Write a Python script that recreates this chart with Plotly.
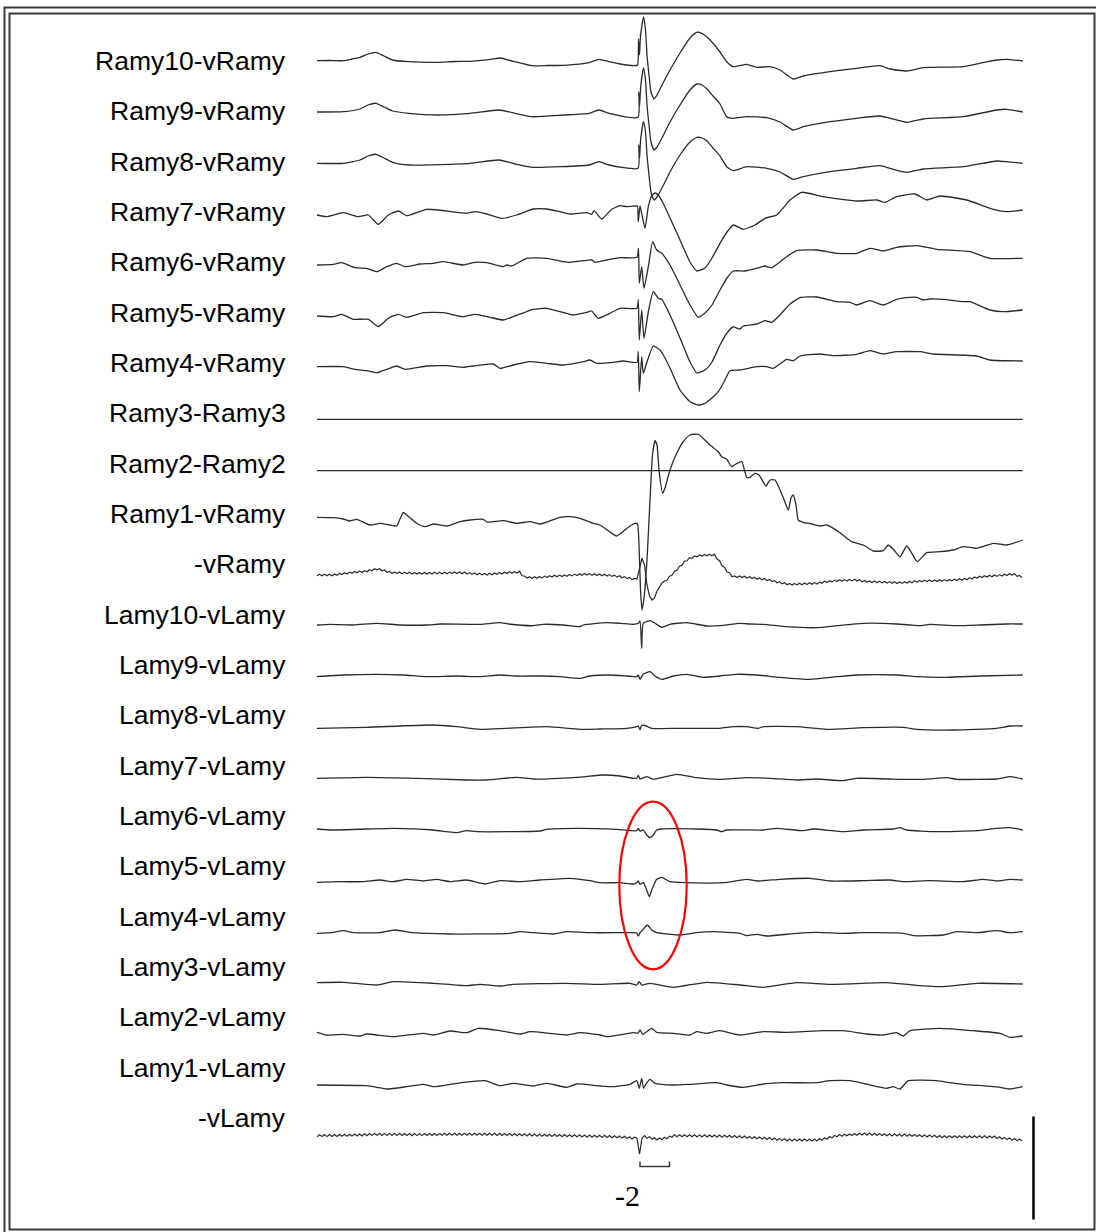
import plotly.graph_objects as go

# ---------------- data ----------------
LABELS = ["Ramy10-vRamy", "Ramy9-vRamy", "Ramy8-vRamy", "Ramy7-vRamy", "Ramy6-vRamy",
          "Ramy5-vRamy", "Ramy4-vRamy", "Ramy3-Ramy3", "Ramy2-Ramy2", "Ramy1-vRamy",
          "-vRamy", "Lamy10-vLamy", "Lamy9-vLamy", "Lamy8-vLamy", "Lamy7-vLamy",
          "Lamy6-vLamy", "Lamy5-vLamy", "Lamy4-vLamy", "Lamy3-vLamy", "Lamy2-vLamy",
          "Lamy1-vLamy", "-vLamy"]

# time (ms from start of epoch) and amplitude (uV, negative up convention)
T_RAMY10 = [0,13,26.6,35,43,51,59,67,75.6,92,120.6,138,153,173.8,184,191,198,215,231,247,
            272,282,292,303,317,320.5,321.5,322.5,323.5,326.5,328.5,330,332,334,337,340,346,353,363,373,
            379.7,384.7,390,396,403,409.7,416.3,429.7,439.7,453,463,476.3,486.3,513,539.7,563,573,589.7,606.3,646.3,
            663,679.7,689.7,705.7]
V_RAMY10 = [-0.3,-0.5,-0.3,-2,-3.7,-7,-8.7,-5,-1,0.7,1.3,0.5,0.3,-1.7,-3,-1,0.7,4.7,4.5,4.3,
            1.7,-1.7,0.7,3,4.7,4,-22,-6,-25,-44,-31,-6,14,31,38,34,22,9,-8,-23,
            -28.7,-27.7,-24,-17.7,-9,0.7,5.7,3.3,6.3,5.7,9,18,15,10.7,7.3,4.7,8,10,6.7,5.7,
            2.3,-1,-1.7,0]

T_RAMY9 = [0,26.6,43,51,59,67,75.6,92,120.6,153,182,198,215,247,272,282,292,321,321.8,322.6,
           323.6,326.5,328.5,330,332,334,337,340,346,353,363,373,380,385,390,396,403,409.7,416.3,429.7,
           449.7,463,476.3,486.3,513,539.7,563,573,589.7,606.3,646.3,679.7,689.7,705.7]
V_RAMY9 = [-0.2,-0.5,-3.2,-7.2,-8.9,-5.2,-1.2,1.1,2.8,1.1,-2.2,1.1,4.5,2.8,1.1,-2.2,1.1,5.1,-20.2,-6.2,
           -24.2,-44.2,-32.2,-7.2,12.8,29.8,37.8,34.8,23.8,9.8,-7.2,-22.2,-28.2,-27.2,-23.2,-16.2,-8.2,4.5,6.1,4.5,
           5.5,9.8,17.8,14.5,9.5,6.1,3.8,6.1,10.1,6.8,4.5,-2.2,-2.9,-0.2]

T_RAMY8 = [0,26.6,43,51,59,67,75.6,92,153,182,198,215,272,282,292,321,321.8,322.6,323.6,326.5,
           328.5,330,332,334,337,340,346,353,363,373,380,385,390,396,403,409.7,416.3,429.7,449.7,463,
           476.3,486.3,513,539.7,563,573,589.7,606.3,646.3,679.7,689.7,705.7]
V_RAMY8 = [-0.1,-0.1,-3.4,-7.4,-9.1,-5.4,-1.1,1.6,-0.1,-3.4,0.6,3.9,1.6,-1.7,1.6,4.9,-18.4,-5.4,-23.4,-41.7,
           -31.4,-8.4,11.6,28.6,36.6,33.6,22.6,8.6,-8.4,-21.4,-26.1,-25.4,-22.4,-15.4,-7.4,3.3,7.3,3.3,4.9,8.6,
           15.9,13.3,8.3,4.9,2.3,4.9,8.9,5.6,3.3,-2.4,-1.7,-0.1]

T_RAMY7 = [0,9.7,26.3,41.3,51.3,61.3,71.3,81.3,89.7,109.7,149.7,158,169.7,184.7,199.7,216.3,229.7,243,253,269.7,
           274.7,277,284.7,294.7,303,309.7,319,320.5,321.3,323,325,328,331.3,334.7,338,342,346,353,363,373,
           380,388,395,403,410,416.3,426.3,438,448,459.7,473,484.7,506,539.7,559.7,568,579.7,598,609.7,623,
           649.7,673,689.7,705.7]
V_RAMY7 = [0.4,2.1,-1.9,2.1,0.4,9.7,0.4,-3.6,1.1,-5.3,-1.3,-2.9,-0.6,3.7,0.4,-5.6,-5.6,-2.9,-0.6,-1.9,
           -0.3,-3.9,4.4,-5.3,-8.9,-7.9,-8.6,-8.6,7.1,-8.6,0.4,13.7,-7.9,-18.6,-21.6,-18.6,-11.6,3.4,25.4,47.4,
           56.4,53.4,43.4,28.7,17.4,10.4,14.7,10.4,3.7,0.4,-14.6,-22.3,-17.9,-13.6,-14.6,-12.3,-17.9,-20.6,-14.6,-18.6,
           -14.6,-6.3,-2.9,-4.6]

T_RAMY6 = [0,16.3,24.7,38,49.7,59.7,69.7,79.7,88,103,116.3,126.3,146.3,158,169.7,186.3,189.7,194.7,209.7,229.7,
           246.3,253,266.3,274.7,278,289.7,303,320,321.5,322.3,324.7,327,331.3,335.7,339.7,344.7,353,363,373,381,
           388,395,403,410,416.3,428,439.7,448,454.7,469.7,479.7,499.7,519.7,539.7,553,566.3,579.7,599.7,619.7,653,
           673,705.7]
V_RAMY6 = [-0.8,-1.5,-3.1,1.9,2.5,5.9,0.9,-2.5,0.9,-1.8,-2.5,-4.1,-0.8,-3.5,-3.1,0.9,-0.8,0.2,-7.5,-7.5,
           -4.1,-3.5,-5.1,-5.8,-3.5,-5.8,-8.1,-8.5,-17.5,17.5,0.9,22.5,0.9,-24.1,-15.8,-12.5,-0.8,19.2,39.2,51.2,
           47.2,39.2,24.2,12.2,5.2,5.2,2.5,0.2,1.9,-9.1,-15.1,-15.8,-12.5,-12.5,-17.5,-14.8,-18.5,-20.1,-16.5,-14.1,
           -7.5,-7.5]

T_RAMY5 = [0,16.3,24.7,36.3,51.3,61.3,71.3,81.3,89.7,106.3,126.3,146.3,158,173,186.3,196.3,216.3,229.7,243,256.3,
           269.7,274.7,278,281.3,293,303,320,321.3,322.3,324.7,327,331.3,336.3,341.3,344.7,353,363,373,380,388,
           395,403,410,416,423,426.3,439.7,448,454.7,463,473,483,499.7,519.7,533,539.7,553,566.3,579.7,593,
           599.7,606.3,613,626.3,646.3,653,673,686.3,705.7]
V_RAMY5 = [-1,-0.3,-2.7,2.3,2.3,9.7,1.3,-2.7,0.3,-4.3,-4.3,-0.3,-2.7,0.3,3,-0.3,-7.7,-8.7,-5.3,-2,
           -4.7,-6,-2,1.3,-3.7,-8.7,-8.7,-17,23,-7,21.3,-5,-25.3,-18.7,-17.7,-2,21,45,56,53,
           45,28,16,10,12,9,7,3.7,5.3,-2,-13,-19.3,-20,-15.3,-14.7,-12,-16.3,-12,-17.7,-19.7,
           -19.7,-17,-18,-17.7,-15.3,-15.3,-7,-5.3,-7]

T_RAMY4 = [0,26.3,38,49.7,59.7,69.7,79.7,88,109.7,129.7,146.3,156.3,176.3,183,186.3,196.3,213,229.7,246.3,266.3,
           273,279.7,296.3,306.3,320,321.3,322.3,324.7,326.3,330,336.3,343,346.3,353,363,373,381.3,388,396.3,401.3,
           407,413,423,439.7,449.7,456.3,469.7,476.3,483,503,516.3,539.7,553,566.3,579.7,603,616.3,659.7,673,705.7]
V_RAMY4 = [-1.5,-1.5,1.1,2.5,4.5,1.1,-2.2,1.1,-2.2,-2.5,-0.9,-2.2,-4.2,0.1,-0.5,-3.2,-6.5,-4.9,-3.2,-6.5,
           -8.2,-4.9,-5.9,-7.2,-5.9,-16.5,23.5,-11.5,5.1,-6.2,-22.2,-18.2,-13.2,-0.2,21.8,33.5,36.8,35.1,28.5,23.5,
           13.8,2.5,1.8,-1.5,-1.5,0.1,-8.9,-7.5,-12.2,-14.2,-12.5,-13.9,-17.5,-14.2,-16.5,-16.5,-14.2,-12.2,-8.2,-7.2]

T_RAMY3 = [0, 705.7]
V_RAMY3 = [0, 0]
T_RAMY2 = [0, 705.7]
V_RAMY2 = [0, 0]

T_RAMY1 = [0,16.3,26.3,33,39.7,53,63,73,79.7,83,86.3,89.7,99.7,108,116.3,129.7,143,153,166.3,169.7,
           186.3,199.7,213,223,243,253,263,276.3,283,294.7,299.7,303,313,318,320.5,322,323.5,325,327,330,
           333,335.5,338,340,342,345.7,348,353,359.7,366,373,381.3,393,401.3,404.7,409.7,414.7,419,424.7,429.7,
           433,438,442,449,453,458,466,471.3,474,476.3,479,481.3,486.3,494.7,503,510,523,534.7,546.3,556.3,
           566.3,571.3,577,583,589.7,594,600.3,609.7,623,636.3,646.3,659.7,676.3,689.7,705.7]
V_RAMY1 = [-4.5,-4.1,-2.8,-0.8,-2.5,3.2,1.5,3.2,4.2,-2.8,-9.3,-6.8,1.5,4.9,2.2,4.2,-0.1,-1.8,-2.5,0.2,
           -1.1,1.5,-0.1,2.2,-4.5,-5.1,-3.5,1.5,3.2,11.5,14.2,12.2,4.2,1.5,2.2,23.2,68.2,88.2,76.2,38.2,
           -21.8,-66.8,-81.1,-76.8,-51.8,-28.5,-33.8,-51.8,-68.5,-79.8,-86.8,-87.5,-76.8,-70.1,-65.1,-62.5,-55.1,-57.8,-60.1,-44.5,
           -44.5,-48.5,-46.8,-35.8,-41.8,-41.8,-24.8,-11.8,-23.8,-26.8,-16.8,-1.8,0.5,2.2,4.2,3.2,10.9,19.9,23.2,29.2,
           28.9,23.2,28.2,34.9,24.2,30.2,39.9,30.9,29.9,28.2,24.9,26.5,21.5,23.2,18.2]

# reference channels: uniformly sampled, 2.5 ms per sample
SAMPLE_MS = 2.5
V_VRAMY = [2.8,1.2,2.8,1.2,2.8,1.2,2.8,1,2.3,0.4,
           1.6,-0.3,1,-0.9,0.3,-1.6,-0.2,-1.9,-0.4,-2.3,
           -1.2,-3.3,-2.2,-4.3,-3.2,-4.3,-2.2,-3,-0.7,-1.6,
           0.5,-1.1,0.6,-1,0.7,-0.9,0.8,-0.7,1,-0.6,
           1.1,-0.5,1,-0.6,1,-0.6,1,-0.7,0.9,-0.7,
           0.8,-0.8,0.7,-0.9,0.6,-1,0.6,-1,0.7,-0.9,
           1,-0.4,1.4,0,1.7,0.2,1.9,0.4,2.1,0.3,
           1.7,-0.1,1.3,-0.5,1,-0.8,0.6,-1.2,0.3,-1.5,
           0,-1.8,2.8,3,5,3.7,5.5,3.8,5.3,3.5,
           4.9,3.1,4.5,2.7,4.1,2.3,3.8,2.1,3.6,1.9,
           3.3,1.5,2.9,1.1,2.5,0.7,2.2,0.5,2.1,0.6,
           2.3,0.8,2.5,1,2.7,1.2,3,1.6,3.4,2.1,
           4.1,2.8,4.8,3.6,5.6,4.4,6.5,5.4,6,-6,
           -15,-8,12,23,27,25,18,14,10,8,
           7.3,3.2,2.3,-1.8,-2.7,-6.8,-7.7,-11.8,-12.2,-15.3,
           -14.7,-17.1,-16.2,-18.1,-16.7,-18.6,-17.2,-18.8,-17.2,-18.8,
           -14.2,-12.3,-7.2,-5.8,-1.2,-0.3,3.8,2.9,4.5,2.9,
           4.6,3.2,5,3.7,5.6,4.3,6.2,4.9,6.8,5.5,
           7.6,6.5,8.6,7.6,9.8,8.8,10.9,9.8,11.8,10.5,
           12.1,10.4,11.9,10.2,11.7,10,11.5,9.8,11.3,9.6,
           11,9.1,10.3,8.3,9.5,7.6,8.9,7.1,8.5,6.8,
           8.3,6.6,8.1,6.4,7.9,6.2,8,6.8,8.8,7.5,
           9.3,7.9,9.5,8,9.7,8.2,9.9,8.4,10.1,8.6,
           10.3,8.8,10.5,8.9,10.4,8.7,10.1,8.3,9.7,7.8,
           9.2,7.4,8.8,7.1,8.6,6.9,8.5,6.9,8.5,6.8,
           8.3,6.6,8.1,6.4,7.8,6.1,7.6,5.8,7.2,5.4,
           6.8,4.8,6,4,5.2,3.2,4.5,2.7,4.1,2.3,
           3.8,2,3.4,1.6,3,1.2,2.6,0.7,2.1,0.7,
           3.3,2.5,4.5]

T_LAMY10 = [0,13,36.3,59.7,83,109.7,123,163,183,191.3,216.3,226.3,246.3,263,266.3,289.7,303,316.3,321.3,323,
            324.7,326.3,333,338,344.7,353,369.7,389.7,403,423,433,446.3,469.7,499.7,519.7,546.3,579.7,593,603,613,
            639.7,663,689.7,705.7]
V_LAMY10 = [0.8,0.1,0.8,-0.9,0.8,0.8,-0.2,0.1,-1.5,-0.2,1.5,0.1,0.8,2.5,0.8,-1.5,-0.9,0.1,-0.9,-3.2,
            24.1,-0.9,-3.5,-0.9,3.1,0.1,-1.5,1.8,1.5,-0.9,-0.2,0.1,2.5,3.5,1.5,-0.9,-0.2,0.8,1.5,0.1,
            1.5,0.8,-0.2,-0.2]

T_LAMY9 = [0,26.3,59.7,86.3,109.7,139.7,163,183,199.7,223,243,263,273,293,309.7,319.7,321.3,323,326.3,333,
           338,344.7,356.3,369.7,386.3,403,419.7,439.7,463,493,519.7,539.7,579.7,599.7,629.7,663,705.7]
V_LAMY9 = [1.3,-0.4,-1.1,-0.4,1.3,0.6,1.3,-0.4,0.6,0.6,1.3,2.9,0.6,-0.4,0.6,1.3,-0.4,3.9,-1.4,-3.7,
           0.6,3.9,0.6,-1.1,1.9,0.6,-1.1,-0.4,1.9,3.9,1.3,-0.4,-0.4,1.3,1.9,0.6,-0.4]

T_LAMY8 = [0,49.7,116.3,139.7,163,189.7,229.7,263,283,309.7,319.7,321.3,323,324.5,328,334.7,363,403,416.3,429.7,
           441.3,446.3,479.7,509.7,546.3,586.3,599.7,636.3,679.7,693,705.7]
V_LAMY8 = [1.7,0.7,-1.6,0.1,2.7,1.7,0.1,2.7,2.4,1.7,0.1,-0.6,3.2,-1.1,-1.1,1.7,1.7,1.7,0.1,0.1,
           1.7,0.1,0.1,2.7,1.1,0.7,2.7,3.4,1.7,-0.6,-0.6]

T_LAMY7 = [0,49.7,99.7,149.7,169.7,199.7,216.3,259.7,286.3,303,316.3,319.7,321.3,323,329.7,336.3,359.7,379.7,403,429.7,
           453,479.7,499.7,526.3,539.7,573,606.3,629.7,639.7,679.7,693,705.7]
V_LAMY7 = [0.5,-0.5,0.5,2.2,2.2,-0.5,1.2,-0.5,-2.8,-1.8,0.5,0.5,-2.3,1,-1.1,1.5,-3.5,-0.1,1.5,-0.1,
           0.5,2.2,1.2,2.9,0.5,1.2,1.5,-0.1,1.5,1.2,-1.1,1.2]

T_LAMY6 = [0,16.3,49.7,76.3,116.3,129.7,139.7,149.7,159.7,223,229.7,259.7,299.7,319.7,321.3,323,326.3,329.7,333,336.3,
           339.7,344.7,379.7,399.7,404.7,409.7,446.3,459.7,486.3,496.3,526.3,546.3,576.3,583,589.7,619.7,659.7,679.7,693,705.7]
V_LAMY6 = [0,1,0,-0.7,1,2.7,3.7,1.7,2.7,2,0.3,-0.7,0.3,1.7,-0.5,2,1,6,8.7,6,
           1,0,0,1,2.7,1,1,-0.7,1.7,0,2.7,1,0,-1.3,1,2.7,1.7,-0.7,-1.3,1]

T_LAMY5 = [0,23,46.3,63,76.3,89.7,106.3,119.7,133,149.7,168,183,203,223,253,273,283,303,316.3,319.7,
           321.3,323,326.3,329.7,332.3,334.7,339.7,344.7,353,369.7,406.3,429.7,439.7,463,493,513,546.3,573,586.3,613,
           646.3,666.3,679.7,693,705.7]
V_LAMY5 = [2.1,1.5,1.5,-0.2,1.5,-0.9,0.8,-0.9,1.5,-0.2,3.8,0.5,1.5,-0.2,-1.9,0.5,2.5,2.5,3.8,2.5,
           0.8,4.1,2.5,9.8,16.5,9.8,-0.9,-2.9,1.5,2.5,2.5,-0.9,0.8,-0.9,-1.9,0.8,0.5,-0.2,1.5,0.5,
           1.5,-0.9,0.8,-0.9,-0.2]

T_LAMY4 = [0,16.3,26.3,36.3,63,78,96.3,133,193,203,216.3,236.3,249.7,276.3,316.3,319.7,321.3,323,326.3,330.3,
           334.7,339.7,363,379.7,396.3,423,429.7,439.7,449.7,479.7,499.7,526.3,546.3,586.3,596.3,626.3,639.7,659.7,679.7,693,
           705.7]
V_LAMY4 = [1.9,0.9,-0.7,1.3,1.3,-1.4,1.3,2.6,1.9,0.3,1.3,2.6,0.3,1.3,1.3,1.6,4.6,1.3,-2.1,-6.4,
           -1.4,1.3,3.6,1.3,0.3,1.9,4.3,2.9,4.6,1.9,0.9,1.9,1.3,1.9,4.3,3.6,0.3,1.3,-0.7,1.3,
           0.3]

T_LAMY3 = [0,26.3,59.7,76.3,116.3,149.7,163,183,196.3,249.7,283,313,319.7,322.3,324.7,333,356.3,389.7,423,446.3,
           479.7,513,569.7,596.3,626.3,659.7,705.7]
V_LAMY3 = [0.1,-0.3,2.4,-0.9,0.7,3.1,1.7,3.4,1.7,0.7,1.7,0.7,2.4,-0.9,2.4,0.7,4.7,-0.3,2.4,4.7,
           0.1,1.7,0.1,2.4,4.1,0.7,1.4]

T_LAMY2 = [0,9.7,26.3,43,49.7,76.3,106.3,116.3,133,149.7,161.3,183,203,213,233,249.7,263,283,289.7,316.3,
           321.3,323,325.7,334.7,339.7,356.3,373,379.7,389.7,403,423,446.3,469.7,506.3,526.3,549.7,566.3,579.7,586.3,593,
           623,656.3,683,693,705.7]
V_LAMY2 = [-1.5,1.2,0.5,2.2,0.2,2.9,-0.5,1.2,-2.8,-1.1,-5.5,-3.1,0.2,-2.1,-0.5,1.2,-1.1,1.2,2.9,-1.1,
           -0.8,-3.8,0.5,-5.5,-1.5,-0.5,1.2,-2.1,-0.5,-3.1,1.2,-2.1,-1.5,-3.1,-3.1,0.2,1.2,-1.1,2.2,-3.1,
           -5.5,-3.1,-0.5,3.5,2.2]

T_LAMY1 = [0,49.7,59.7,69.7,89.7,106.3,116.3,139.7,168,183,196.3,216.3,229.7,249.7,259.7,283,296.3,313,319.7,322.3,
           324.7,326.5,329,333,338,356.3,373,399.7,409.7,426.3,446.3,466.3,499.7,513,533,546.3,569.7,576.3,583,591.3,
           619.7,633,646.3,683,693,705.7]
V_LAMY1 = [0,0.7,2.3,4,1.7,-0.7,1.7,-1.7,-4.3,0.7,-1.7,1,-1.7,2.3,-1,1,1.7,-0.7,-4.3,3.3,
           -6.7,3.3,-1,-5.7,-1.7,0,-0.7,-2.3,0,2.3,-1,-2.3,-2.3,-4.3,-4.3,-1.7,3.3,1.7,4,-4.3,
           -4.3,-2.3,-0.7,2.3,4,1.7]

V_VLAMY = [0.5,-1.5,0.4,-1.6,0.4,-1.6,0.3,-1.7,0.3,-1.7,
           0.1,-1.9,0,-2,-0.1,-2.1,-0.2,-2.2,-0.3,-2.4,
           -0.5,-2.6,-0.7,-2.8,-0.9,-2.9,-0.8,-2.8,-0.8,-2.8,
           -0.8,-2.8,-0.8,-2.8,-0.7,-2.7,-0.7,-2.7,-0.6,-2.6,
           -0.6,-2.6,-0.6,-2.6,-0.7,-2.7,-0.7,-2.7,-0.8,-2.8,
           -0.9,-2.9,-0.9,-2.9,-0.9,-2.9,-0.9,-2.9,-0.9,-2.9,
           -0.9,-2.9,-1,-3,-1,-3,-0.9,-2.9,-0.9,-2.9,
           -0.9,-2.9,-0.8,-2.8,-0.7,-2.7,-0.7,-2.7,-0.6,-2.6,
           -0.5,-2.5,-0.4,-2.4,-0.3,-2.3,-0.2,-2.2,-0.1,-2.1,
           0,-2,0.1,-1.9,0.2,-1.8,0.3,-1.7,0.4,-1.6,
           0.5,-1.5,0.6,-1.4,0.7,-1.3,0.8,-1.2,0.9,-1.1,
           1,-1,1.1,-0.9,1.2,-0.8,1.3,-0.7,1.5,-0.5,
           1.5,-0.3,1.9,0.1,2.3,0.6,2.9,1.1,2.1,18,
           2,-0.5,2,0.5,3,1.5,3.8,1.8,3.5,1,
           2.5,0,1,-1.5,0.5,-1.5,0.5,-1.5,0.6,-1.4,
           0.6,-1.4,0.7,-1.3,0.7,-1.3,0.8,-1.2,0.8,-1.2,
           0.9,-1.1,1,-1,1.1,-0.9,1.3,-0.7,1.5,-0.5,
           1.8,-0.1,2,0.2,2.3,0.5,2.6,0.8,2.9,1.1,
           3.2,1.4,3.6,1.8,4,2.2,4.4,2.6,4.8,2.8,
           4.8,2.8,4.8,2.8,4.8,2.8,4.8,2.8,4.8,2.8,
           4.8,2.3,4,1.5,3,0.3,1.8,-0.8,0.6,-1.6,
           0,-1.9,-0.4,-2.3,-0.7,-2.6,-1,-2.9,-1.2,-3.2,
           -1.1,-3.1,-1,-2.9,-0.8,-2.7,-0.6,-2.5,-0.4,-2.4,
           -0.3,-2.3,-0.2,-2.2,-0.1,-2.1,0,-2,0.1,-1.8,
           0.3,-1.5,0.5,-1.3,0.7,-1.1,0.9,-0.9,1.2,-0.6,
           1.5,-0.5,1.5,-0.5,1.5,-0.5,1.5,-0.5,1.5,-0.5,
           1.5,-0.5,1.5,-0.5,1.6,-0.4,1.7,-0.3,1.8,-0.2,
           1.6,-0.1,2.2,0.6,2.8,1.2,3.4,1.8,4,2.4,
           4.5,2.8,4.8]

SCALE_LABEL = "-2"

# ---------------- layout constants ----------------
W, H = 1096, 1232
X0_PX = 317              # pixel where epoch starts
ROW0, ROW_STEP = 61.0, 51.2
LAB0, LAB_STEP = 61.0, 50.33
TRACE_COLOR = "#2a2a2a"

T_VRAMY = [k * SAMPLE_MS for k in range(len(V_VRAMY))]
T_VLAMY = [k * SAMPLE_MS for k in range(len(V_VLAMY))]

series = [(T_RAMY10, V_RAMY10), (T_RAMY9, V_RAMY9), (T_RAMY8, V_RAMY8), (T_RAMY7, V_RAMY7),
          (T_RAMY6, V_RAMY6), (T_RAMY5, V_RAMY5), (T_RAMY4, V_RAMY4), (T_RAMY3, V_RAMY3),
          (T_RAMY2, V_RAMY2), (T_RAMY1, V_RAMY1), (T_VRAMY, V_VRAMY), (T_LAMY10, V_LAMY10),
          (T_LAMY9, V_LAMY9), (T_LAMY8, V_LAMY8), (T_LAMY7, V_LAMY7), (T_LAMY6, V_LAMY6),
          (T_LAMY5, V_LAMY5), (T_LAMY4, V_LAMY4), (T_LAMY3, V_LAMY3), (T_LAMY2, V_LAMY2),
          (T_LAMY1, V_LAMY1), (T_VLAMY, V_VLAMY)]
DENSE = {10, 21}   # uniformly sampled reference channels drawn without smoothing

fig = go.Figure()
for i, (t, v) in enumerate(series):
    base = ROW0 + ROW_STEP * i
    if i in DENSE:
        line = dict(color=TRACE_COLOR, width=1.2)
    else:
        line = dict(color=TRACE_COLOR, width=1.3, shape="spline", smoothing=0.5)
    fig.add_trace(go.Scatter(x=t, y=[base + a for a in v], mode="lines", line=line,
                             hoverinfo="skip", showlegend=False))

annotations = []
for i, lab in enumerate(LABELS):
    annotations.append(dict(x=286 - X0_PX + 2, y=LAB0 + LAB_STEP * i, xref="x", yref="y",
                            text=lab, showarrow=False, xanchor="right", yanchor="middle",
                            font=dict(family="Liberation Sans, Arial, sans-serif", size=26.5, color="#000")))
annotations.append(dict(x=627.5 - X0_PX, y=1195, xref="x", yref="y", text=SCALE_LABEL,
                        showarrow=False, xanchor="center", yanchor="middle",
                        font=dict(family="Liberation Serif, Times New Roman, serif", size=30, color="#000")))

shapes = [
    # double frame
    dict(type="rect", xref="x", yref="y", x0=4.5 - X0_PX, y0=7.5, x1=1101 - X0_PX, y1=1240,
         line=dict(color="#3a3a3a", width=2)),
    dict(type="rect", xref="x", yref="y", x0=9.5 - X0_PX, y0=13.5, x1=1094.5 - X0_PX, y1=1229.5,
         line=dict(color="#3a3a3a", width=2)),
    # red ellipse
    dict(type="circle", xref="x", yref="y", x0=619.3 - X0_PX, x1=686.7 - X0_PX, y0=801.7, y1=969.3,
         line=dict(color="#ff0000", width=2.2)),
    # time scale bracket
    dict(type="path", xref="x", yref="y",
         path=f"M {640 - X0_PX},1161.5 L {640 - X0_PX},1166.5 L {669.5 - X0_PX},1166.5 L {669.5 - X0_PX},1161.5",
         line=dict(color="#3a3a3a", width=1.5)),
    # amplitude scale bar
    dict(type="line", xref="x", yref="y", x0=1033.5 - X0_PX, x1=1033.5 - X0_PX, y0=1116.5, y1=1219.5,
         line=dict(color="#000", width=2.5)),
]

fig.update_layout(
    width=W, height=H, margin=dict(l=0, r=0, t=0, b=0, pad=0),
    paper_bgcolor="white", plot_bgcolor="white",
    xaxis=dict(range=[-X0_PX, W - X0_PX], visible=False, fixedrange=True),
    yaxis=dict(range=[H, 0], visible=False, fixedrange=True),
    annotations=annotations, shapes=shapes, showlegend=False,
)

fig.write_html("out.html")
